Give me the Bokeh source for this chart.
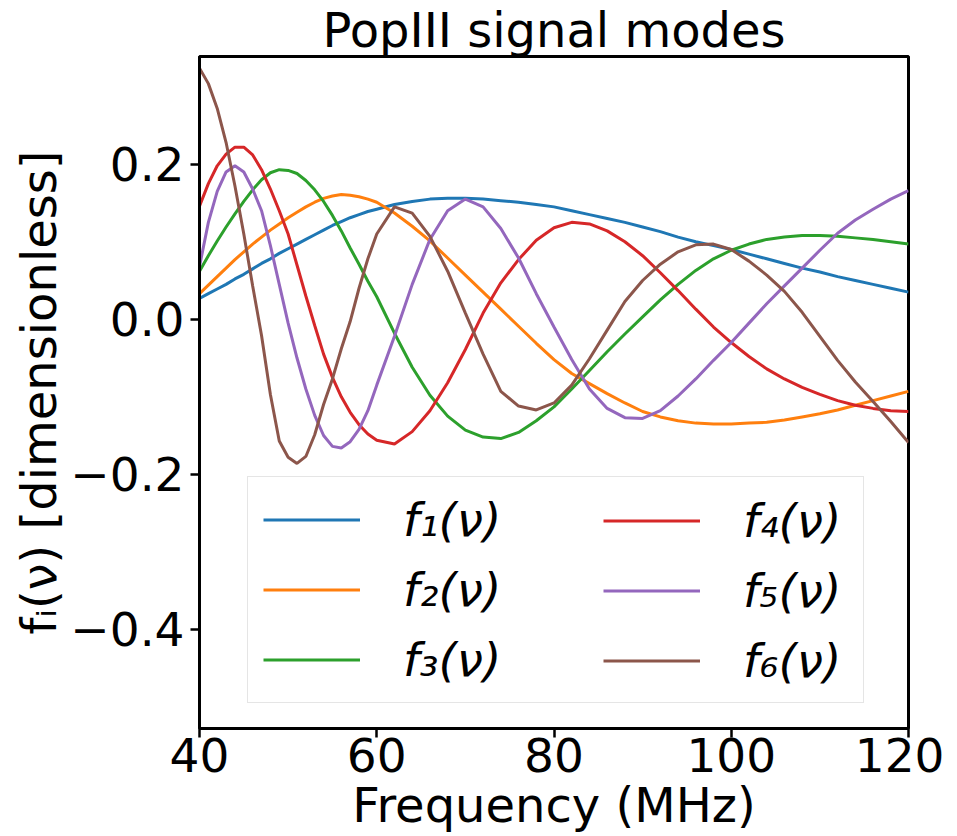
from bokeh.plotting import figure
from bokeh.models import Range1d, FixedTicker, Legend, LegendItem
from bokeh.embed import file_html
from bokeh.resources import INLINE

# Frequency samples (MHz)
freq = [40, 41, 42, 43, 44, 45, 46, 47, 48, 49, 50, 51, 52, 53, 54, 55, 56, 57, 58, 59, 60,
        62, 64, 66, 68, 70, 72, 74, 76, 78, 80, 82, 84, 86, 88, 90, 92, 94, 96, 98, 100,
        102, 104, 106, 108, 110, 112, 114, 116, 118, 120]

f1 = [0.027, 0.033, 0.039, 0.045, 0.052, 0.058, 0.065, 0.072, 0.078, 0.085, 0.091, 0.097, 0.103, 0.109,
      0.115, 0.121, 0.126, 0.131, 0.135, 0.139, 0.142,
      0.148, 0.152, 0.155, 0.156, 0.156, 0.155, 0.153, 0.151, 0.148, 0.145,
      0.140, 0.135, 0.130, 0.125, 0.119, 0.113, 0.106, 0.100, 0.095, 0.090,
      0.084, 0.078, 0.072, 0.066, 0.061, 0.055, 0.050, 0.045, 0.040, 0.035]

f2 = [0.033, 0.044, 0.055, 0.066, 0.077, 0.087, 0.097, 0.106, 0.115, 0.123, 0.131, 0.138, 0.145, 0.151,
      0.156, 0.159, 0.161, 0.160, 0.158, 0.155, 0.151,
      0.137, 0.120, 0.101, 0.079, 0.057, 0.035, 0.013, -0.009, -0.031, -0.052,
      -0.070, -0.083, -0.096, -0.108, -0.119, -0.126, -0.131, -0.134, -0.135, -0.135,
      -0.134, -0.133, -0.130, -0.126, -0.122, -0.117, -0.111, -0.105, -0.099, -0.093]

f3 = [0.062, 0.082, 0.101, 0.119, 0.136, 0.152, 0.167, 0.180, 0.189, 0.193, 0.192, 0.188, 0.179, 0.167,
      0.152, 0.134, 0.114, 0.092, 0.071, 0.049, 0.029,
      -0.018, -0.062, -0.098, -0.125, -0.143, -0.152, -0.154, -0.146, -0.131, -0.113,
      -0.090, -0.066, -0.042, -0.019, 0.003, 0.025, 0.045, 0.063, 0.078, 0.089,
      0.097, 0.103, 0.106, 0.108, 0.108, 0.107, 0.105, 0.103, 0.100, 0.097]

f4 = [0.146, 0.175, 0.198, 0.213, 0.222, 0.222, 0.212, 0.193, 0.168, 0.140, 0.110, 0.070, 0.030, -0.008,
      -0.045, -0.075, -0.100, -0.120, -0.136, -0.148, -0.156,
      -0.161, -0.145, -0.118, -0.082, -0.039, 0.008, 0.047, 0.077, 0.102, 0.118,
      0.125, 0.123, 0.114, 0.100, 0.082, 0.060, 0.037, 0.013, -0.010, -0.030,
      -0.048, -0.064, -0.077, -0.088, -0.097, -0.105, -0.111, -0.115, -0.118, -0.119]

f5 = [0.068, 0.125, 0.165, 0.190, 0.198, 0.190, 0.168, 0.140, 0.095, 0.045, -0.005, -0.050, -0.090, -0.124,
      -0.150, -0.164, -0.166, -0.158, -0.142, -0.118, -0.085,
      -0.022, 0.045, 0.103, 0.140, 0.155, 0.145, 0.117, 0.079, 0.033, -0.010,
      -0.052, -0.090, -0.115, -0.127, -0.128, -0.118, -0.099, -0.077, -0.053, -0.030,
      -0.005, 0.020, 0.043, 0.066, 0.089, 0.111, 0.128, 0.142, 0.155, 0.166]

f6 = [0.324, 0.304, 0.272, 0.228, 0.172, 0.110, 0.043, -0.021, -0.097, -0.157, -0.178, -0.186, -0.177, -0.149,
      -0.110, -0.077, -0.038, -0.003, 0.040, 0.078, 0.110,
      0.145, 0.137, 0.107, 0.062, 0.008, -0.045, -0.093, -0.112, -0.117, -0.108,
      -0.085, -0.051, -0.014, 0.023, 0.050, 0.071, 0.087, 0.096, 0.097, 0.090,
      0.075, 0.057, 0.036, 0.009, -0.022, -0.053, -0.081, -0.106, -0.132, -0.159]

series = [f1, f2, f3, f4, f5, f6]
labels = ["f₁(ν)", "f₂(ν)", "f₃(ν)", "f₄(ν)", "f₅(ν)", "f₆(ν)"]
colors = ["#1f77b4", "#ff7f0e", "#2ca02c", "#d62728", "#9467bd", "#8c564b"]

x_ticks = [40, 60, 80, 100, 120]
y_ticks = [-0.4, -0.2, 0.0, 0.2]
y_tick_labels = ["−0.4", "−0.2", "0.0", "0.2"]

FONT = "DejaVu Sans"

p = figure(frame_width=709, frame_height=672,
           x_range=Range1d(40, 120), y_range=Range1d(-0.528, 0.339),
           output_backend="svg", toolbar_location=None,
           min_border_left=199, min_border_right=36, min_border_top=47, min_border_bottom=100,
           title="PopIII signal modes")

p.title.text_font = FONT
p.title.text_font_size = "48px"
p.title.text_font_style = "normal"
p.title.text_color = "black"
p.title.align = "center"
p.title.standoff = -2

p.outline_line_color = "black"
p.outline_line_width = 3
p.outline_line_alpha = 1
p.xgrid.visible = False
p.ygrid.visible = False
p.background_fill_color = "white"
p.border_fill_color = "white"

for ax in (p.xaxis[0], p.yaxis[0]):
    ax.axis_line_width = 3
    ax.axis_line_color = "black"
    ax.major_tick_out = 9
    ax.major_tick_in = 0
    ax.major_tick_line_width = 2.5
    ax.minor_tick_out = 0
    ax.minor_tick_in = 0
    ax.major_label_text_font = FONT
    ax.major_label_text_font_size = "47px"
    ax.major_label_text_color = "black"
    ax.axis_label_text_font = FONT
    ax.axis_label_text_font_size = "48px"
    ax.axis_label_text_font_style = "normal"
    ax.axis_label_text_color = "black"

p.xaxis.ticker = FixedTicker(ticks=x_ticks)
p.yaxis.ticker = FixedTicker(ticks=y_ticks)
p.yaxis.major_label_overrides = {t: s for t, s in zip(y_ticks, y_tick_labels)}
p.xaxis.major_label_standoff = 0
p.yaxis.major_label_standoff = 6
p.xaxis.axis_label = "Frequency (MHz)"
p.yaxis.axis_label = "fᵢ(ν) [dimensionless]"
p.xaxis.axis_label_standoff = 2
p.yaxis.axis_label_standoff = 0

rends = []
for s, c in zip(series, colors):
    rends.append(p.line(freq, s, line_color=c, line_width=3))

common = dict(label_text_font=FONT, label_text_font_size="47px", label_text_font_style="italic",
              label_text_color="black",
              glyph_width=97, glyph_height=55, label_height=55, label_standoff=43,
              padding=15, spacing=15, margin=0)

legA = Legend(items=[LegendItem(label=labels[i], renderers=[rends[i]]) for i in range(3)],
              location=(48, 25), border_line_color="#cccccc", border_line_width=1.5,
              background_fill_color="white", background_fill_alpha=0.8,
              label_width=445, **common)
legB = Legend(items=[LegendItem(label=labels[i], renderers=[rends[i]]) for i in range(3, 6)],
              location=(389, 25), border_line_alpha=0, background_fill_alpha=0,
              label_width=100, **common)
p.add_layout(legA)
p.add_layout(legB)

open("out.html", "w").write(file_html(p, INLINE))
